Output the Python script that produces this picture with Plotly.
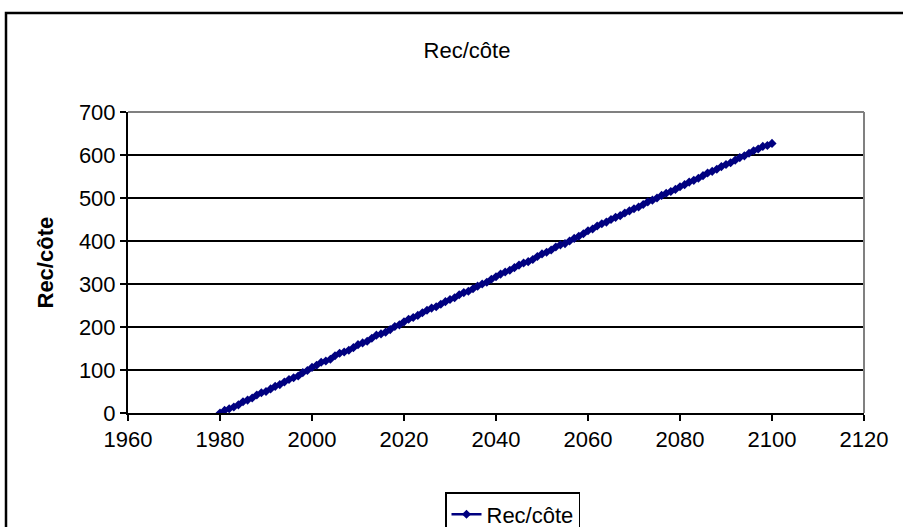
import plotly.graph_objects as go

years = list(range(1980, 2101))
rec_cote = [
    0, 6, 10, 14, 19, 26, 30, 35, 42, 47, 50, 56, 62, 66, 72, 78, 82, 86, 94, 99,
    106, 111, 118, 121, 125, 133, 139, 142, 146, 152, 159, 163, 167, 174, 181, 184, 188, 194, 201, 205,
    212, 218, 222, 227, 233, 239, 244, 247, 253, 259, 264, 268, 275, 280, 283, 289, 295, 300, 304, 311,
    317, 323, 328, 332, 338, 344, 349, 352, 357, 364, 370, 374, 379, 386, 391, 394, 400, 406, 411, 417,
    424, 428, 435, 440, 444, 450, 455, 459, 465, 470, 475, 479, 485, 491, 495, 500, 506, 511, 515, 520,
    526, 531, 537, 541, 546, 552, 558, 562, 567, 573, 578, 582, 588, 594, 598, 604, 610, 614, 620, 622,
    627,
]
x_ticks = [1960, 1980, 2000, 2020, 2040, 2060, 2080, 2100, 2120]
y_ticks = [0, 100, 200, 300, 400, 500, 600, 700]
series_name = "Rec/côte"
title_text = "Rec/côte"

W, H = 903, 527
L, R, T, B = 128, 39, 112, 114
pw, ph = W - L - R, H - T - B

def px_x(p):
    return (p - L) / pw

def px_y(p):
    return (H - B - p) / ph

font_family = "Liberation Sans, Arial, sans-serif"
fs = 22

fig = go.Figure()
fig.add_trace(go.Scatter(
    x=years, y=rec_cote, name=series_name, mode="lines+markers",
    line=dict(color="#000080", width=2.5),
    marker=dict(symbol="diamond", size=7, color="#000080"),
))

fig.update_layout(
    width=W, height=H,
    margin=dict(l=L, r=R, t=T, b=B, autoexpand=False),
    paper_bgcolor="white", plot_bgcolor="white",
    font=dict(family=font_family, size=fs, color="black"),
    title=dict(text=title_text, x=467 / W, xanchor="center",
               yref="container", y=1 - 50 / H, yanchor="middle",
               font=dict(family=font_family, size=fs, color="black")),
    showlegend=True,
    legend=dict(xref="container", yref="container",
                x=445 / W, xanchor="left", y=1 - 492 / H, yanchor="top",
                bordercolor="black", borderwidth=1.5, bgcolor="white",
                font=dict(family=font_family, size=fs, color="black"),
                tracegroupgap=0, itemwidth=30),
    xaxis=dict(range=[1960, 2120], tickvals=x_ticks, ticks="outside", ticklen=6,
               tickwidth=2, tickcolor="black", showline=True, linecolor="black",
               linewidth=2, showgrid=False, zeroline=False, automargin=False,
               tickfont=dict(size=fs)),
    yaxis=dict(range=[0, 700], tickvals=y_ticks, ticks="outside", ticklen=6,
               tickwidth=2, tickcolor="black", showline=True, linecolor="black",
               linewidth=2, showgrid=True, gridcolor="black", gridwidth=2,
               zeroline=False, automargin=False, tickfont=dict(size=fs)),
    annotations=[
        dict(text="<b>" + series_name + "</b>", xref="paper", yref="paper",
             x=px_x(45), y=0.5, xanchor="center", yanchor="middle",
             textangle=-90, showarrow=False,
             font=dict(family=font_family, size=fs, color="black")),
    ],
    shapes=[
        dict(type="line", xref="paper", yref="paper", x0=0, x1=1, y0=1, y1=1,
             line=dict(color="#808080", width=2), layer="above"),
        dict(type="line", xref="paper", yref="paper", x0=1, x1=1, y0=0, y1=1,
             line=dict(color="#808080", width=2), layer="above"),
        dict(type="rect", xref="paper", yref="paper",
             x0=px_x(6), x1=px_x(930), y0=px_y(545), y1=px_y(13),
             line=dict(color="black", width=2.5), layer="above"),
    ],
)

fig.write_html("out.html", config={"displayModeBar": False},
               post_script="document.body.style.margin='0px';document.body.style.padding='0px';")
